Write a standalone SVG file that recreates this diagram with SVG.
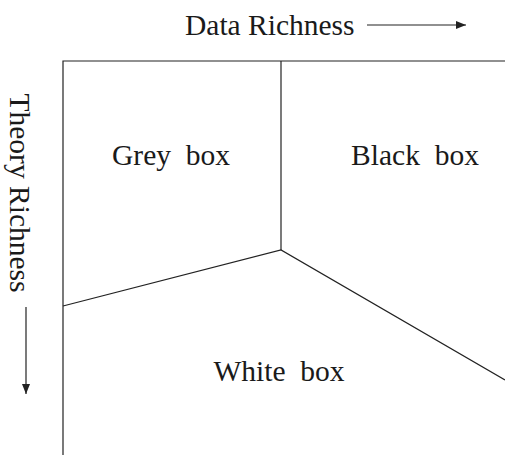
<svg xmlns="http://www.w3.org/2000/svg" width="505" height="455" viewBox="0 0 505 455">
<style>
text{font-family:"Liberation Serif","Times New Roman",serif;font-size:29.5px;fill:#1a1a1a;white-space:pre}
.ln{stroke:#222;stroke-width:1.2;fill:none}
.ar{stroke:#222;stroke-width:1.2;fill:none;marker-end:url(#ah)}
</style>
<defs>
<marker id="ah" markerWidth="10" markerHeight="8" refX="10" refY="4" orient="auto" markerUnits="userSpaceOnUse">
<path d="M0,0 L10,4 L0,8 Z" fill="#222"/>
</marker>
</defs>
<rect width="505" height="455" fill="#fff"/>
<g id="axes">
<text id="data-label" x="185" y="35">Data Richness</text>
<text id="theory-label" transform="translate(10,193) rotate(90)" text-anchor="middle">Theory Richness</text>
</g>
<g id="connectors">
<path class="ar" d="M367,25 H466"/>
<path class="ar" d="M26,307 V394"/>
<path class="ln" d="M505,61 H63 V455"/>
<path class="ln" d="M281,61 V250"/>
<path class="ln" d="M63,306 L281,250 L505,380"/>
</g>
<g id="grey"><text x="171" y="165" text-anchor="middle">Grey  box</text></g>
<g id="black"><text x="415" y="165" text-anchor="middle">Black  box</text></g>
<g id="white"><text x="279" y="381" text-anchor="middle">White  box</text></g>
</svg>
